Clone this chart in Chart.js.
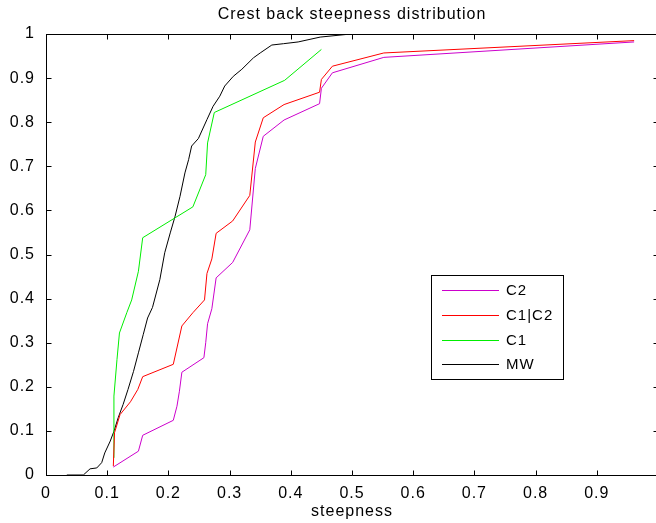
<!DOCTYPE html>
<html>
<head>
<meta charset="utf-8">
<script src="https://cdn.jsdelivr.net/npm/chart.js@4.4.1/dist/chart.umd.min.js"></script>
<style>
  html, body { margin: 0; padding: 0; overflow: hidden; background: #fff; width: 656px; height: 523px; }
  canvas { display: block; }
</style>
</head>
<body>
<canvas id="c" width="664" height="523"></canvas>
<script>
// Cumulative distributions of crest back steepness for each class.
const c2X  = [0.110, 0.151, 0.158, 0.208, 0.214, 0.218, 0.222, 0.258, 0.261, 0.264, 0.271, 0.278, 0.305, 0.333, 0.342, 0.355, 0.389, 0.447, 0.450, 0.468, 0.552, 0.961];
const c2Y  = [0.018, 0.054, 0.090, 0.124, 0.156, 0.190, 0.233, 0.266, 0.300, 0.343, 0.377, 0.447, 0.482, 0.556, 0.695, 0.768, 0.805, 0.842, 0.877, 0.912, 0.947, 0.982];

const c12X = [0.110, 0.112, 0.121, 0.138, 0.150, 0.158, 0.208, 0.222, 0.240, 0.259, 0.263, 0.271, 0.278, 0.305, 0.333, 0.342, 0.355, 0.389, 0.447, 0.450, 0.468, 0.552, 0.961];
const c12Y = [0.020, 0.096, 0.137, 0.166, 0.194, 0.223, 0.251, 0.338, 0.368, 0.397, 0.457, 0.490, 0.548, 0.576, 0.634, 0.755, 0.810, 0.840, 0.868, 0.897, 0.927, 0.957, 0.985];

const c1X  = [0.110, 0.111, 0.116, 0.120, 0.132, 0.140, 0.151, 0.158, 0.240, 0.261, 0.264, 0.275, 0.390, 0.450];
const c1Y  = [0.039, 0.179, 0.262, 0.322, 0.368, 0.397, 0.462, 0.538, 0.608, 0.681, 0.753, 0.822, 0.895, 0.965];

const mwX  = [0.034, 0.061, 0.072, 0.083, 0.091, 0.096, 0.105, 0.111, 0.118, 0.126, 0.134, 0.143, 0.151, 0.159, 0.166, 0.174, 0.186, 0.194, 0.203, 0.211, 0.219, 0.227, 0.233, 0.238, 0.249, 0.263, 0.273, 0.284, 0.292, 0.306, 0.320, 0.339, 0.350, 0.369, 0.388, 0.412, 0.448, 0.491, 0.510];
const mwY  = [0.000, 0.000, 0.014, 0.016, 0.028, 0.050, 0.077, 0.099, 0.130, 0.160, 0.194, 0.235, 0.277, 0.319, 0.356, 0.380, 0.443, 0.504, 0.549, 0.587, 0.632, 0.685, 0.715, 0.746, 0.763, 0.806, 0.836, 0.859, 0.882, 0.904, 0.920, 0.946, 0.957, 0.975, 0.978, 0.982, 0.993, 0.999, 1.000];

const seriesNames = ['C2', 'C1|C2', 'C1', 'MW'];
const chartTitle = 'Crest back steepness distribution';
const xTitle = 'steepness';

// Tick positions and their labels
const xTickValues = [0, 0.1, 0.2, 0.3, 0.4, 0.5, 0.6, 0.7, 0.8, 0.9];
const xTickLabels = ['0', '0.1', '0.2', '0.3', '0.4', '0.5', '0.6', '0.7', '0.8', '0.9'];
const yTickValues = [0, 0.1, 0.2, 0.3, 0.4, 0.5, 0.6, 0.7, 0.8, 0.9, 1];
const yTickLabels = ['0', '0.1', '0.2', '0.3', '0.4', '0.5', '0.6', '0.7', '0.8', '0.9', '1'];

const FONT = 'Liberation Sans, Arial, Helvetica, sans-serif';
const toPoints = (xs, ys) => xs.map((x, i) => ({ x, y: ys[i] }));

// Slightly tracked text, like the classic plotting look
const tracking = {
  id: 'tracking',
  beforeUpdate(chart) { chart.ctx.letterSpacing = '1px'; },
  beforeDraw(chart) { chart.ctx.letterSpacing = '1px'; }
};

// Title centred over the axes box rather than the whole canvas
const axesTitle = {
  id: 'axesTitle',
  afterDraw(chart) {
    const { ctx, chartArea: a } = chart;
    ctx.save();
    ctx.font = '16px ' + FONT;
    ctx.fillStyle = '#000';
    ctx.textAlign = 'center';
    ctx.textBaseline = 'middle';
    ctx.fillText(chartTitle, (a.left + a.right) / 2, 15);
    ctx.restore();
  }
};

// Box frame with inward tick marks on all four sides
const frame = {
  id: 'frame',
  afterDatasetsDraw(chart) {
    const { ctx, chartArea: a, scales: { x, y } } = chart;
    const len = 5;
    ctx.save();
    ctx.strokeStyle = '#000';
    ctx.lineWidth = 1;
    ctx.beginPath();
    const L = Math.round(a.left) + 0.5, R = Math.round(a.right) + 0.5;
    const T = Math.round(a.top) + 0.5, B = Math.round(a.bottom) + 0.5;
    ctx.moveTo(L, T); ctx.lineTo(R, T); ctx.lineTo(R, B);
    xTickValues.concat([1]).forEach(v => {
      const px = Math.round(x.getPixelForValue(v)) + 0.5;
      ctx.moveTo(px, B); ctx.lineTo(px, B - len);
      ctx.moveTo(px, T); ctx.lineTo(px, T + len);
    });
    yTickValues.forEach(v => {
      const py = Math.round(y.getPixelForValue(v)) + 0.5;
      ctx.moveTo(L, py); ctx.lineTo(L + len, py);
      ctx.moveTo(R, py); ctx.lineTo(R - len, py);
    });
    ctx.stroke();
    ctx.restore();
  }
};

// Boxed legend inside the plot area
const boxLegend = {
  id: 'boxLegend',
  afterDraw(chart) {
    const { ctx } = chart;
    const bx = 431.5, by = 275.5, bw = 132, bh = 104;
    ctx.save();
    ctx.fillStyle = '#fff';
    ctx.fillRect(bx, by, bw, bh);
    ctx.strokeStyle = '#000';
    ctx.lineWidth = 1;
    ctx.strokeRect(bx, by, bw, bh);
    ctx.font = '15px ' + FONT;
    ctx.textBaseline = 'middle';
    ctx.textAlign = 'left';
    chart.data.datasets.forEach((ds, i) => {
      const yy = Math.round(290 + i * 24.8) + 0.5;
      ctx.strokeStyle = ds.borderColor;
      ctx.beginPath();
      ctx.moveTo(442, yy);
      ctx.lineTo(499, yy);
      ctx.stroke();
      ctx.fillStyle = '#000';
      ctx.fillText(ds.label, 506, yy);
    });
    ctx.restore();
  }
};

const lineStyle = { borderWidth: 1, pointRadius: 0, tension: 0, fill: false };

new Chart(document.getElementById('c'), {
  type: 'line',
  data: {
    datasets: [
      { label: seriesNames[0], data: toPoints(c2X, c2Y),   borderColor: '#cc00cc', ...lineStyle },
      { label: seriesNames[1], data: toPoints(c12X, c12Y), borderColor: '#ff0000', ...lineStyle },
      { label: seriesNames[2], data: toPoints(c1X, c1Y),   borderColor: '#00ee00', ...lineStyle },
      { label: seriesNames[3], data: toPoints(mwX, mwY),   borderColor: '#000000', ...lineStyle }
    ]
  },
  options: {
    responsive: false,
    animation: false,
    devicePixelRatio: 1,
    layout: { padding: { left: 0, right: 6, top: 34, bottom: 0 } },
    plugins: {
      legend: { display: false },
      tooltip: { enabled: false },
      title: { display: false }
    },
    scales: {
      x: {
        type: 'linear',
        min: 0, max: 1,
        grid: { display: false },
        border: { display: true, color: '#000', width: 1 },
        afterBuildTicks: s => { s.ticks = xTickValues.map(v => ({ value: v })); },
        afterFit: s => { s.height = 48; },
        ticks: {
          color: '#000',
          font: { family: FONT, size: 16 },
          padding: 1,
          maxRotation: 0,
          autoSkip: false,
          callback: (v, i) => xTickLabels[i]
        },
        title: {
          display: true,
          text: xTitle,
          color: '#000',
          font: { family: FONT, size: 16 },
          padding: { top: 0, bottom: 2 }
        }
      },
      y: {
        type: 'linear',
        min: 0, max: 1,
        grid: { display: false },
        border: { display: true, color: '#000', width: 1 },
        afterBuildTicks: s => { s.ticks = yTickValues.map(v => ({ value: v })); },
        afterFit: s => { s.width = 46; },
        ticks: {
          color: '#000',
          font: { family: FONT, size: 16 },
          padding: 3,
          autoSkip: false,
          callback: (v, i) => yTickLabels[i]
        }
      }
    }
  },
  plugins: [tracking, axesTitle, frame, boxLegend]
});
</script>
</body>
</html>
